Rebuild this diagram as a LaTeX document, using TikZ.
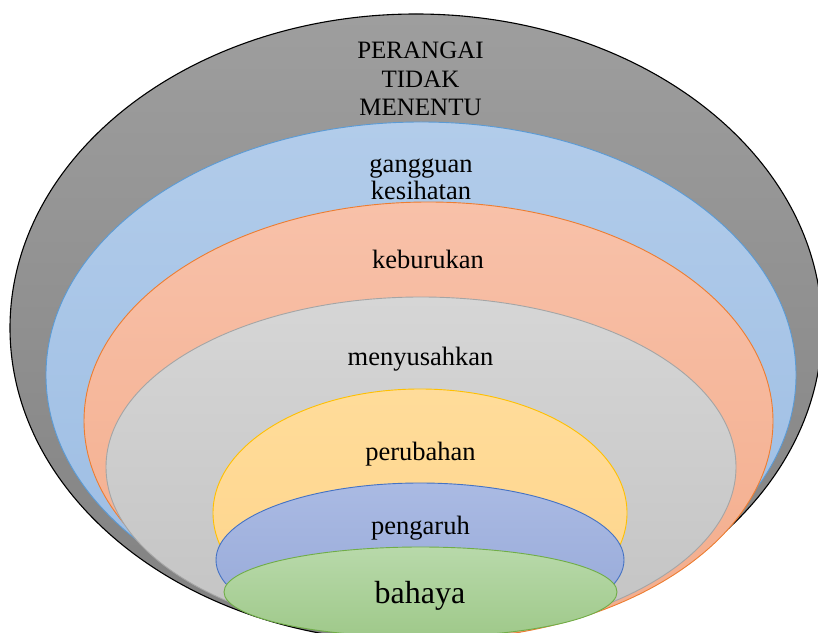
\documentclass[tikz,border=0pt]{standalone}
\usepackage{fontspec}
\setmainfont{Liberation Serif}

% Office-style theme colours: fills (top/bottom of the gradient) and outlines
\definecolor{grayTop}{HTML}{9E9E9E}
\definecolor{grayBot}{HTML}{818181}
\definecolor{blueTop}{HTML}{B2CCEA}
\definecolor{blueBot}{HTML}{9BBCE3}
\definecolor{blueLine}{HTML}{5B9BD5}
\definecolor{orangeTop}{HTML}{F8C1A9}
\definecolor{orangeBot}{HTML}{F3AC8B}
\definecolor{orangeLine}{HTML}{ED7D31}
\definecolor{silverTop}{HTML}{D6D6D6}
\definecolor{silverBot}{HTML}{C3C3C3}
\definecolor{silverLine}{HTML}{A5A5A5}
\definecolor{goldTop}{HTML}{FFDC9A}
\definecolor{goldBot}{HTML}{FED48A}
\definecolor{goldLine}{HTML}{FFC000}
\definecolor{indigoTop}{HTML}{AABAE3}
\definecolor{indigoBot}{HTML}{94A7D7}
\definecolor{indigoLine}{HTML}{4472C4}
\definecolor{greenTop}{HTML}{B8D9AA}
\definecolor{greenBot}{HTML}{9FC98A}
\definecolor{greenLine}{HTML}{70AD47}

\tikzset{
  layer/.style n args={3}{top color=#1, bottom color=#2, draw=#3, line width=0.9pt},
  lbl/.style={anchor=base, inner sep=0pt, text=black,
              font=\fontsize{26.5}{28}\selectfont},
  toplbl/.style={anchor=base, inner sep=0pt, text=black,
              font=\fontsize{25}{28}\selectfont},
}

\begin{document}
\begin{tikzpicture}[x=1pt,y=1pt]
  \useasboundingbox (0,0) rectangle (818,632);

  \begin{scope}
    \clip (0,0) rectangle (818,632);
    % nested ellipses, outermost first
    \path[layer={grayTop}{grayBot}{black}, line width=1.1pt]
      (416,304) ellipse (406 and 314);
    \path[layer={blueTop}{blueBot}{blueLine}]
      (421,257) ellipse (375 and 253);
    \path[layer={orangeTop}{orangeBot}{orangeLine}]
      (428.5,211) ellipse (344.5 and 219);
    \path[layer={silverTop}{silverBot}{silverLine}]
      (421,165) ellipse (315 and 170);
    \path[layer={goldTop}{goldBot}{goldLine}]
      (420,119) ellipse (207 and 124);
    \path[layer={indigoTop}{indigoBot}{indigoLine}]
      (420,72) ellipse (204 and 77);
    \path[layer={greenTop}{greenBot}{greenLine}]
      (420.5,40) ellipse (196.5 and 45);
  \end{scope}

  % labels
  \node[toplbl] (perangai) at (420.5,573) {PERANGAI};
  \node[toplbl] (tidak)    at (420.5,544) {TIDAK};
  \node[toplbl] (menentu)  at (420.5,516) {MENENTU};
  \node[lbl] (gangguan)    at (421,459) {gangguan};
  \node[lbl] (kesihatan)   at (421,432) {kesihatan};
  \node[lbl] (keburukan)   at (428,363) {keburukan};
  \node[lbl] (menyusahkan) at (420.5,266) {menyusahkan};
  \node[lbl] (perubahan)   at (420.5,172) {perubahan};
  \node[lbl] (pengaruh)    at (420.5,98) {pengaruh};
  \node[lbl, font=\fontsize{32}{34}\selectfont] (bahaya) at (420,29) {bahaya};
\end{tikzpicture}
\end{document}
